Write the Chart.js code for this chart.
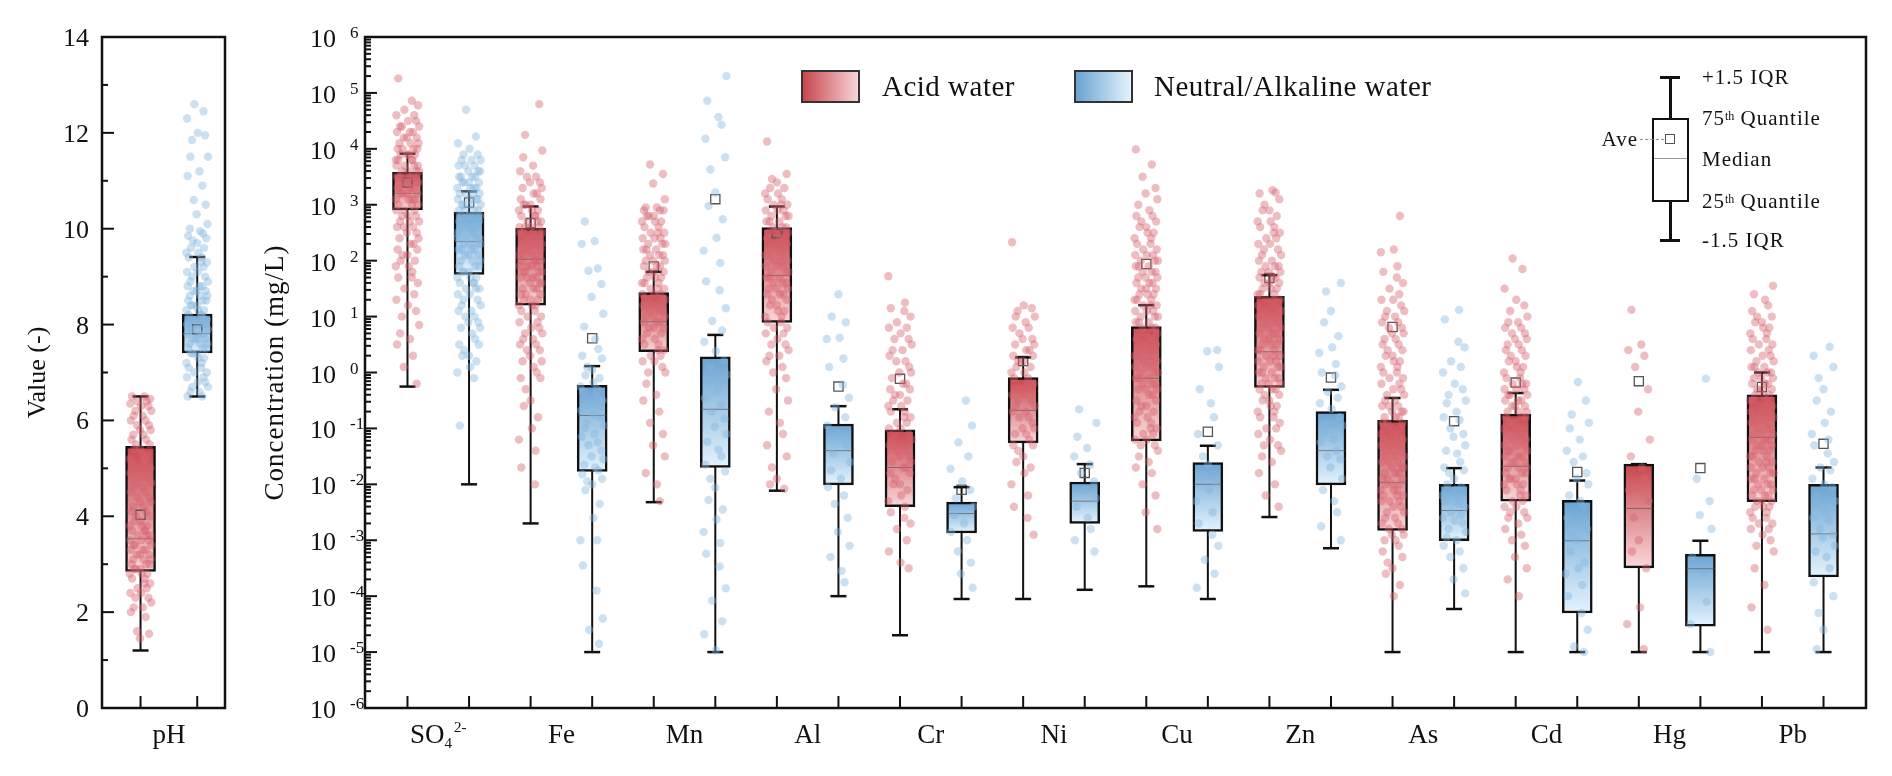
<!DOCTYPE html>
<html lang="en">
<head>
<meta charset="UTF-8">
<title>Acid vs neutral/alkaline water quality</title>
<script src="https://cdn.jsdelivr.net/npm/chart.js@4"></script>
<style>
  body { margin: 0; width: 1892px; height: 776px; background: #fff; position: relative; overflow: hidden; font-family: "Liberation Serif", "Times New Roman", serif; color: #111; }
  canvas { position: absolute; top: 0; }
  #phChart { left: 0; }
  #mainChart { left: 240px; }
  .abs { position: absolute; z-index: 2; }
  .swatch { width: 59px; height: 33px; border: 2px solid #333; box-sizing: border-box; }
  .leg { font-size: 29px; letter-spacing: 0.5px; line-height: 34px; white-space: nowrap; }
  .key { font-size: 21px; letter-spacing: 1px; line-height: 24px; white-space: nowrap; }
  .key sup { font-size: 12px; vertical-align: top; position: relative; top: -2px; letter-spacing: 0; }
  .blk { background: #111; }
</style>
</head>
<body>
<canvas id="phChart" width="240" height="776"></canvas>
<canvas id="mainChart" width="1652" height="776"></canvas>

<!-- legend -->
<div class="abs swatch" style="left:801px;top:70px;background:linear-gradient(to right,#c8464d,#f7d5d8);"></div>
<div class="abs leg" style="left:882px;top:69px;">Acid water</div>
<div class="abs swatch" style="left:1074px;top:70px;background:linear-gradient(to right,#6aa3d2,#e4f3fd);"></div>
<div class="abs leg" style="left:1154px;top:69px;">Neutral/Alkaline water</div>

<!-- box key -->
<div class="abs blk" style="left:1660px;top:76px;width:20px;height:3px;"></div>
<div class="abs blk" style="left:1669px;top:77px;width:2.5px;height:41px;"></div>
<div class="abs" style="left:1652px;top:118px;width:37px;height:84px;border:2px solid #111;box-sizing:border-box;background:#fff;"></div>
<div class="abs" style="left:1654px;top:158px;width:33px;height:1px;background:#999;"></div>
<div class="abs" style="left:1665px;top:134px;width:10px;height:10px;border:1.5px solid #555;box-sizing:border-box;"></div>
<div class="abs" style="left:1640px;top:139px;width:24px;border-top:1px dashed #888;"></div>
<div class="abs blk" style="left:1669px;top:201px;width:2.5px;height:39px;"></div>
<div class="abs blk" style="left:1660px;top:239px;width:20px;height:3px;"></div>
<div class="abs key" style="right:254px;top:127px;">Ave</div>
<div class="abs key" style="left:1702px;top:65px;">+1.5 IQR</div>
<div class="abs key" style="left:1702px;top:106px;">75<sup>th</sup> Quantile</div>
<div class="abs key" style="left:1702px;top:147px;">Median</div>
<div class="abs key" style="left:1702px;top:189px;">25<sup>th</sup> Quantile</div>
<div class="abs key" style="left:1702px;top:228px;">-1.5 IQR</div>

<script>
// ---------- pH panel (acid, neutral/alkaline) ----------
const phLow = [1.2, 6.5];
const phQ1 = [2.85, 7.41];
const phMed = [3.53, 7.81];
const phQ3 = [5.46, 8.22];
const phHigh = [6.5, 9.41];
const phMean = [4.03, 7.9];
const phAcidPts = [6.5, 6.5, 6.45, 6.4, 6.4, 6.35, 6.3, 6.3, 6.2, 6.2, 6.1, 6.1, 6.0, 6.0, 5.9, 5.9, 5.8, 5.8, 5.7, 5.7, 5.6, 5.6,
  5.5, 5.5, 5.4, 5.4, 5.3, 5.3, 5.2, 5.2, 5.1, 5.1, 5.0, 5.0, 4.9, 4.9, 4.8, 4.8, 4.7, 4.7, 4.6, 4.6, 4.5, 4.5, 4.4, 4.4, 4.3,
  4.3, 4.2, 4.2, 4.1, 4.1, 4.0, 4.0, 3.9, 3.9, 3.8, 3.8, 3.8, 3.7, 3.7, 3.7, 3.6, 3.6, 3.6, 3.5, 3.5, 3.5, 3.4, 3.4, 3.4, 3.3,
  3.3, 3.3, 3.2, 3.2, 3.2, 3.1, 3.1, 3.1, 3.0, 3.0, 3.0, 2.9, 2.9, 2.9, 2.8, 2.8, 2.8, 2.7, 2.7, 2.6, 2.6, 2.5, 2.5, 2.4, 2.4,
  2.3, 2.3, 2.2, 2.1, 2.1, 2.0, 1.9, 1.6, 1.55, 1.45];
const phNeuPts = [12.6, 12.45, 12.3, 12.0, 11.95, 11.85, 11.5, 11.5, 11.2, 11.1, 10.9, 10.6, 10.5, 10.3, 10.1, 10.0, 9.95, 9.9, 9.85,
  9.8, 9.75, 9.7, 9.6, 9.6, 9.5, 9.5, 9.4, 9.4, 9.3, 9.3, 9.2, 9.2, 9.1, 9.1, 9.0, 9.0, 8.9, 8.9, 8.8, 8.8, 8.8, 8.7, 8.7, 8.7,
  8.6, 8.6, 8.6, 8.5, 8.5, 8.5, 8.4, 8.4, 8.4, 8.3, 8.3, 8.3, 8.2, 8.2, 8.2, 8.1, 8.1, 8.1, 8.0, 8.0, 8.0, 7.9, 7.9, 7.9, 7.8,
  7.8, 7.8, 7.7, 7.7, 7.7, 7.6, 7.6, 7.6, 7.5, 7.5, 7.5, 7.4, 7.4, 7.4, 7.3, 7.3, 7.2, 7.2, 7.1, 7.1, 7.0, 7.0, 6.9, 6.9, 6.8,
  6.8, 6.7, 6.7, 6.6, 6.6, 6.5, 6.5];
const phTicks = [0, 2, 4, 6, 8, 10, 12, 14];

// ---------- concentration panel (mg/L) ----------
const elements = ['SO4', 'Fe', 'Mn', 'Al', 'Cr', 'Ni', 'Cu', 'Zn', 'As', 'Cd', 'Hg', 'Pb'];

const acidLow  = [0.56, 0.002, 0.0048, 0.0077, 2e-5, 8.9e-5, 1.5e-4, 0.0026, 1e-5, 1e-5, 1e-5, 1e-5];
const acidQ1   = [810, 16, 2.35, 7.9, 0.004, 0.055, 0.06, 0.54, 0.0015, 0.005, 3.2e-4, 0.0049];
const acidMed  = [1600, 106, 8.1, 54, 0.02, 0.21, 0.79, 2.35, 0.0107, 0.021, 0.0037, 0.069];
const acidQ3   = [3800, 380, 27, 390, 0.094, 0.81, 6.6, 23, 0.14, 0.18, 0.023, 0.4];
const acidHigh = [8200, 930, 63, 930, 0.22, 1.86, 16, 55, 0.35, 0.43, 0.023, 1.0];
const acidMean = [2500, 470, 79, 310, 0.77, 1.6, 87, 49, 6.5, 0.66, 0.7, 0.55];

const neuLow  = [0.01, 1e-5, 1e-5, 1e-4, 8.9e-5, 1.3e-4, 8.9e-5, 7.2e-4, 5.9e-5, 1e-5, 1e-5, 1e-5];
const neuQ1   = [57, 0.017, 0.02, 0.0098, 0.00135, 0.002, 0.00144, 0.0098, 0.00098, 5e-5, 2.9e-5, 2.2e-4];
const neuMed  = [220, 0.17, 0.22, 0.04, 0.003, 0.005, 0.01, 0.04, 0.0034, 0.00098, 3.1e-4, 0.0013];
const neuQ3   = [740, 0.59, 1.9, 0.12, 0.0048, 0.011, 0.0245, 0.2, 0.01, 0.0052, 5.6e-4, 0.01];
const neuHigh = [1740, 1.3, 4.7, 0.25, 0.0089, 0.023, 0.049, 0.49, 0.0195, 0.0117, 9.8e-4, 0.02];
const neuMean = [1100, 4.1, 1260, 0.56, 0.008, 0.016, 0.087, 0.81, 0.135, 0.0166, 0.0195, 0.053];

// individual samples, stored as log10(mg/L)
const acidPtsLog = [
  [5.26, 4.86, 4.78, 4.7, 4.6, 4.6, 4.5, 4.5, 4.4, 4.4, 4.4, 4.3, 4.3, 4.3, 4.2, 4.2, 4.2, 4.1, 4.1, 4.1, 4.0, 4.0, 4.0, 4.0, 3.9, 3.9,
   3.9, 3.9, 3.8, 3.8, 3.8, 3.8, 3.7, 3.7, 3.7, 3.7, 3.6, 3.6, 3.6, 3.6, 3.5, 3.5, 3.5, 3.5, 3.4, 3.4, 3.4, 3.4, 3.3, 3.3, 3.3, 3.3,
   3.2, 3.2, 3.2, 3.2, 3.1, 3.1, 3.1, 3.1, 3.0, 3.0, 3.0, 2.9, 2.9, 2.9, 2.8, 2.8, 2.8, 2.7, 2.7, 2.7, 2.6, 2.6, 2.6, 2.5, 2.5, 2.4,
   2.4, 2.3, 2.3, 2.2, 2.2, 2.1, 2.1, 2.0, 2.0, 1.9, 1.9, 1.8, 1.7, 1.7, 1.6, 1.5, 1.4, 1.3, 1.2, 1.1, 1.0, 0.85, 0.7, 0.6, 0.5,
   0.3, 0.1, -0.2],
  [4.8, 4.25, 3.97, 3.85, 3.7, 3.6, 3.5, 3.5, 3.4, 3.4, 3.3, 3.3, 3.2, 3.2, 3.1, 3.1, 3.0, 3.0, 3.0, 2.9, 2.9, 2.9, 2.8, 2.8, 2.8, 2.7,
   2.7, 2.7, 2.6, 2.6, 2.6, 2.6, 2.5, 2.5, 2.5, 2.5, 2.4, 2.4, 2.4, 2.4, 2.3, 2.3, 2.3, 2.3, 2.2, 2.2, 2.2, 2.2, 2.1, 2.1, 2.1, 2.1,
   2.0, 2.0, 2.0, 2.0, 1.9, 1.9, 1.9, 1.9, 1.8, 1.8, 1.8, 1.8, 1.7, 1.7, 1.7, 1.7, 1.6, 1.6, 1.6, 1.5, 1.5, 1.5, 1.4, 1.4, 1.4, 1.3,
   1.3, 1.3, 1.2, 1.2, 1.2, 1.1, 1.1, 1.0, 1.0, 0.9, 0.9, 0.8, 0.8, 0.7, 0.7, 0.6, 0.6, 0.5, 0.5, 0.4, 0.4, 0.3, 0.2, 0.2, 0.1, 0.0,
   -0.1, -0.1, -0.3, -0.5, -0.6, -0.8, -1.0, -1.2, -1.4, -1.7, -2.0],
  [3.72, 3.55, 3.38, 3.1, 2.95, 2.95, 2.9, 2.9, 2.9, 2.8, 2.8, 2.8, 2.7, 2.7, 2.7, 2.6, 2.6, 2.5, 2.5, 2.5, 2.4, 2.4, 2.4, 2.3, 2.3, 2.3,
   2.2, 2.2, 2.2, 2.1, 2.1, 2.1, 2.0, 2.0, 2.0, 1.9, 1.9, 1.9, 1.8, 1.8, 1.8, 1.7, 1.7, 1.7, 1.6, 1.6, 1.6, 1.5, 1.5, 1.5, 1.4, 1.4,
   1.4, 1.3, 1.3, 1.3, 1.2, 1.2, 1.2, 1.1, 1.1, 1.1, 1.0, 1.0, 1.0, 0.9, 0.9, 0.9, 0.8, 0.8, 0.8, 0.7, 0.7, 0.6, 0.6, 0.5, 0.5, 0.4,
   0.4, 0.3, 0.3, 0.2, 0.2, 0.1, 0.0, 0.0, -0.2, -0.4, -0.5, -0.7, -0.9, -1.1, -1.3, -1.5, -1.8, -2.0, -2.3],
  [4.13, 3.55, 3.46, 3.4, 3.3, 3.3, 3.2, 3.2, 3.1, 3.1, 3.0, 3.0, 3.0, 2.9, 2.9, 2.9, 2.8, 2.8, 2.8, 2.7, 2.7, 2.7, 2.6, 2.6, 2.6, 2.5,
   2.5, 2.5, 2.4, 2.4, 2.4, 2.3, 2.3, 2.3, 2.2, 2.2, 2.2, 2.1, 2.1, 2.1, 2.0, 2.0, 2.0, 1.9, 1.9, 1.9, 1.8, 1.8, 1.8, 1.7, 1.7, 1.7,
   1.6, 1.6, 1.6, 1.5, 1.5, 1.5, 1.4, 1.4, 1.4, 1.3, 1.3, 1.2, 1.2, 1.1, 1.1, 1.0, 1.0, 0.9, 0.9, 0.8, 0.8, 0.7, 0.7, 0.6, 0.5, 0.5,
   0.4, 0.3, 0.3, 0.2, 0.1, 0.0, -0.1, -0.3, -0.5, -0.7, -0.9, -1.1, -1.3, -1.5, -1.7, -1.9, -2.0, -2.08],
  [1.72, 1.25, 1.15, 1.1, 1.0, 0.9, 0.8, 0.8, 0.7, 0.6, 0.6, 0.5, 0.4, 0.4, 0.3, 0.2, 0.2, 0.1, 0.0, 0.0, -0.1, -0.2, -0.2, -0.3,
   -0.3, -0.4, -0.4, -0.5, -0.5, -0.6, -0.6, -0.7, -0.7, -0.8, -0.8, -0.9, -0.9, -1.0, -1.0, -1.1, -1.1, -1.2, -1.2, -1.3, -1.3,
   -1.4, -1.4, -1.5, -1.5, -1.6, -1.6, -1.7, -1.7, -1.8, -1.8, -1.9, -2.0, -2.0, -2.1, -2.2, -2.3, -2.4, -2.5, -2.6, -2.7, -2.8,
   -3.0, -3.2, -3.4, -3.5],
  [2.33, 1.2, 1.15, 1.1, 1.0, 1.0, 0.9, 0.8, 0.8, 0.7, 0.6, 0.6, 0.5, 0.5, 0.4, 0.4, 0.3, 0.3, 0.2, 0.2, 0.1, 0.1, 0.0, 0.0, -0.1,
   -0.1, -0.2, -0.2, -0.3, -0.3, -0.4, -0.4, -0.5, -0.5, -0.6, -0.6, -0.7, -0.7, -0.8, -0.8, -0.9, -1.0, -1.0, -1.1, -1.1, -1.2,
   -1.3, -1.3, -1.4, -1.5, -1.6, -1.7, -1.8, -2.0, -2.2, -2.4, -2.6, -2.9],
  [3.99, 3.72, 3.5, 3.3, 3.2, 3.1, 3.0, 2.9, 2.8, 2.8, 2.7, 2.7, 2.6, 2.6, 2.5, 2.5, 2.4, 2.4, 2.3, 2.3, 2.2, 2.2, 2.1, 2.1, 2.1, 2.0,
   2.0, 2.0, 1.9, 1.9, 1.9, 1.8, 1.8, 1.8, 1.7, 1.7, 1.7, 1.6, 1.6, 1.6, 1.5, 1.5, 1.5, 1.4, 1.4, 1.4, 1.3, 1.3, 1.3, 1.2, 1.2, 1.2,
   1.1, 1.1, 1.1, 1.0, 1.0, 1.0, 0.9, 0.9, 0.9, 0.8, 0.8, 0.8, 0.7, 0.7, 0.7, 0.6, 0.6, 0.6, 0.5, 0.5, 0.5, 0.4, 0.4, 0.4, 0.3, 0.3,
   0.3, 0.2, 0.2, 0.2, 0.1, 0.1, 0.1, 0.0, 0.0, 0.0, -0.1, -0.1, -0.1, -0.2, -0.2, -0.2, -0.3, -0.3, -0.3, -0.4, -0.4, -0.5, -0.5,
   -0.6, -0.6, -0.7, -0.7, -0.8, -0.8, -0.9, -0.9, -1.0, -1.0, -1.1, -1.1, -1.2, -1.2, -1.3, -1.3, -1.4, -1.5, -1.6, -1.7, -1.8,
   -2.0, -2.2, -2.5, -2.8],
  [3.26, 3.22, 3.2, 3.1, 3.0, 2.9, 2.9, 2.8, 2.7, 2.7, 2.6, 2.6, 2.5, 2.5, 2.4, 2.4, 2.3, 2.3, 2.2, 2.2, 2.1, 2.1, 2.0, 2.0, 1.9, 1.9,
   1.9, 1.8, 1.8, 1.8, 1.7, 1.7, 1.7, 1.6, 1.6, 1.6, 1.5, 1.5, 1.5, 1.4, 1.4, 1.4, 1.3, 1.3, 1.3, 1.2, 1.2, 1.2, 1.1, 1.1, 1.1, 1.0,
   1.0, 1.0, 0.9, 0.9, 0.9, 0.8, 0.8, 0.8, 0.7, 0.7, 0.7, 0.6, 0.6, 0.6, 0.5, 0.5, 0.5, 0.4, 0.4, 0.4, 0.3, 0.3, 0.3, 0.2, 0.2, 0.2,
   0.1, 0.1, 0.1, 0.0, 0.0, 0.0, -0.1, -0.1, -0.1, -0.2, -0.2, -0.2, -0.3, -0.3, -0.3, -0.4, -0.4, -0.5, -0.5, -0.6, -0.6, -0.7,
   -0.7, -0.8, -0.8, -0.9, -1.0, -1.0, -1.1, -1.2, -1.3, -1.3, -1.4, -1.5, -1.6, -1.8, -2.0, -2.2, -2.4],
  [2.8, 2.2, 2.15, 1.9, 1.8, 1.7, 1.6, 1.5, 1.4, 1.3, 1.3, 1.2, 1.1, 1.1, 1.0, 1.0, 0.9, 0.9, 0.8, 0.8, 0.7, 0.7, 0.6, 0.6, 0.5, 0.5,
   0.4, 0.4, 0.3, 0.3, 0.2, 0.2, 0.1, 0.1, 0.0, 0.0, -0.1, -0.1, -0.2, -0.2, -0.3, -0.3, -0.4, -0.4, -0.5, -0.5, -0.6, -0.6, -0.6,
   -0.7, -0.7, -0.7, -0.8, -0.8, -0.8, -0.9, -0.9, -0.9, -1.0, -1.0, -1.0, -1.1, -1.1, -1.1, -1.2, -1.2, -1.2, -1.3, -1.3, -1.3,
   -1.4, -1.4, -1.4, -1.5, -1.5, -1.5, -1.6, -1.6, -1.6, -1.7, -1.7, -1.7, -1.8, -1.8, -1.8, -1.9, -1.9, -1.9, -2.0, -2.0, -2.0,
   -2.1, -2.1, -2.1, -2.2, -2.2, -2.2, -2.3, -2.3, -2.3, -2.4, -2.4, -2.5, -2.5, -2.6, -2.6, -2.7, -2.7, -2.8, -2.8, -2.9, -2.9,
   -3.0, -3.0, -3.1, -3.2, -3.3, -3.4, -3.5, -3.6, -3.8, -4.0],
  [2.04, 1.85, 1.5, 1.3, 1.2, 1.1, 1.0, 0.9, 0.9, 0.8, 0.8, 0.7, 0.7, 0.6, 0.6, 0.5, 0.5, 0.4, 0.4, 0.3, 0.3, 0.2, 0.2, 0.1, 0.1, 0.0,
   0.0, -0.1, -0.1, -0.2, -0.2, -0.2, -0.3, -0.3, -0.3, -0.4, -0.4, -0.4, -0.5, -0.5, -0.5, -0.6, -0.6, -0.6, -0.7, -0.7, -0.7,
   -0.8, -0.8, -0.8, -0.9, -0.9, -0.9, -1.0, -1.0, -1.0, -1.1, -1.1, -1.1, -1.2, -1.2, -1.2, -1.3, -1.3, -1.3, -1.4, -1.4, -1.4,
   -1.5, -1.5, -1.5, -1.6, -1.6, -1.6, -1.7, -1.7, -1.7, -1.8, -1.8, -1.8, -1.9, -1.9, -1.9, -2.0, -2.0, -2.0, -2.1, -2.1, -2.2,
   -2.2, -2.3, -2.3, -2.4, -2.4, -2.5, -2.5, -2.6, -2.6, -2.7, -2.8, -2.9, -3.0, -3.1, -3.3, -3.5, -3.7, -4.0],
  [1.12, 0.5, 0.4, 0.3, 0.1, -0.3, -0.7, -1.2, -1.5, -1.7, -1.9, -2.1, -2.3, -2.6, -3.0, -3.2, -3.5, -4.2, -4.5, -4.95],
  [1.55, 1.4, 1.3, 1.2, 1.1, 1.0, 1.0, 0.9, 0.9, 0.8, 0.8, 0.7, 0.7, 0.6, 0.6, 0.5, 0.5, 0.4, 0.4, 0.3, 0.3, 0.2, 0.2, 0.1, 0.1, 0.1,
   0.0, 0.0, 0.0, -0.1, -0.1, -0.1, -0.2, -0.2, -0.2, -0.3, -0.3, -0.3, -0.4, -0.4, -0.4, -0.5, -0.5, -0.5, -0.6, -0.6, -0.6, -0.7,
   -0.7, -0.7, -0.8, -0.8, -0.8, -0.9, -0.9, -0.9, -1.0, -1.0, -1.0, -1.1, -1.1, -1.1, -1.2, -1.2, -1.2, -1.3, -1.3, -1.3, -1.4,
   -1.4, -1.4, -1.5, -1.5, -1.5, -1.6, -1.6, -1.6, -1.7, -1.7, -1.7, -1.8, -1.8, -1.8, -1.9, -1.9, -1.9, -2.0, -2.0, -2.0, -2.1,
   -2.1, -2.1, -2.2, -2.2, -2.2, -2.3, -2.3, -2.3, -2.4, -2.4, -2.4, -2.5, -2.5, -2.6, -2.6, -2.7, -2.7, -2.8, -2.8, -2.9, -3.0,
   -3.1, -3.2, -3.5, -3.8, -4.2, -4.6]
];
const neuPtsLog = [
  [4.7, 4.22, 4.1, 4.0, 3.9, 3.9, 3.8, 3.8, 3.8, 3.7, 3.7, 3.7, 3.6, 3.6, 3.6, 3.5, 3.5, 3.5, 3.5, 3.4, 3.4, 3.4, 3.4, 3.3, 3.3, 3.3,
   3.3, 3.2, 3.2, 3.2, 3.2, 3.1, 3.1, 3.1, 3.1, 3.0, 3.0, 3.0, 3.0, 2.9, 2.9, 2.9, 2.9, 2.8, 2.8, 2.8, 2.8, 2.7, 2.7, 2.7, 2.7, 2.6,
   2.6, 2.6, 2.6, 2.5, 2.5, 2.5, 2.5, 2.4, 2.4, 2.4, 2.4, 2.3, 2.3, 2.3, 2.3, 2.2, 2.2, 2.2, 2.2, 2.1, 2.1, 2.1, 2.0, 2.0, 2.0, 1.9,
   1.9, 1.9, 1.8, 1.8, 1.8, 1.7, 1.7, 1.7, 1.6, 1.6, 1.6, 1.5, 1.5, 1.5, 1.4, 1.4, 1.3, 1.3, 1.2, 1.2, 1.1, 1.1, 1.0, 1.0, 0.9, 0.9,
   0.8, 0.8, 0.7, 0.6, 0.5, 0.5, 0.4, 0.3, 0.3, 0.2, 0.1, 0.0, -0.1, -0.95],
  [2.7, 2.35, 2.3, 1.86, 1.82, 1.58, 1.35, 1.05, 0.82, 0.6, 0.42, 0.3, 0.25, 0.1, 0.05, -0.05, -0.1, -0.18, -0.25, -0.3, -0.35,
   -0.42, -0.5, -0.55, -0.6, -0.68, -0.75, -0.8, -0.9, -0.95, -1.0, -1.1, -1.15, -1.25, -1.3, -1.4, -1.5, -1.55, -1.65, -1.7,
   -1.75, -1.82, -1.9, -1.95, -2.0, -2.1, -2.35, -2.6, -3.0, -3.0, -3.45, -3.9, -4.4, -4.6, -4.85],
  [5.3, 4.86, 4.57, 4.43, 4.18, 3.85, 3.63, 3.22, 2.98, 2.74, 2.41, 2.18, 1.96, 1.63, 1.47, 1.15, 0.92, 0.75, 0.55, 0.38, 0.21, 0.1,
   -0.04, -0.17, -0.3, -0.46, -0.58, -0.7, -0.83, -0.97, -1.1, -1.24, -1.38, -1.5, -1.65, -1.77, -1.9, -2.06, -2.28, -2.45, -2.63,
   -2.85, -3.05, -3.24, -3.47, -3.86, -4.08, -4.45, -4.68, -4.97],
  [1.4, 1.0, 0.9, 0.62, 0.6, 0.25, 0.1, -0.22, -0.45, -0.62, -0.8, -0.95, -1.1, -1.3, -1.45, -1.6, -1.75, -1.9, -2.05, -2.2, -2.35,
   -2.6, -2.85, -3.1, -3.3, -3.55, -3.75],
  [-0.5, -0.95, -1.25, -1.5, -1.72, -1.95, -2.1, -2.25, -2.4, -2.55, -2.7, -2.85, -3.0, -3.2, -3.4, -3.6, -3.85],
  [-0.66, -0.9, -1.15, -1.35, -1.5, -1.65, -1.8, -1.95, -2.1, -2.25, -2.4, -2.6, -2.8, -3.0, -3.2],
  [0.4, 0.38, 0.1, -0.3, -0.55, -0.8, -1.1, -1.3, -1.5, -1.65, -1.8, -1.95, -2.1, -2.3, -2.5, -2.7, -2.9, -3.1, -3.35, -3.6, -3.85],
  [1.6, 1.45, 1.1, 0.9, 0.65, 0.45, 0.35, 0.15, 0.0, -0.05, -0.25, -0.35, -0.45, -0.55, -0.65, -0.8, -0.9, -0.95, -1.1, -1.2,
   -1.25, -1.4, -1.5, -1.55, -1.7, -1.9, -2.1, -2.3, -2.5, -2.75, -3.0],
  [1.12, 0.95, 0.55, 0.45, 0.2, 0.1, 0.0, -0.2, -0.3, -0.4, -0.5, -0.55, -0.7, -0.8, -0.85, -1.0, -1.1, -1.15, -1.3, -1.4, -1.45,
   -1.6, -1.7, -1.75, -1.8, -1.9, -2.0, -2.05, -2.1, -2.2, -2.25, -2.3, -2.35, -2.4, -2.5, -2.55, -2.6, -2.65, -2.7, -2.8, -2.85,
   -2.95, -3.0, -3.1, -3.2, -3.3, -3.5, -3.7, -3.95],
  [-0.17, -0.5, -0.75, -0.9, -1.0, -1.2, -1.4, -1.5, -1.6, -1.8, -1.9, -2.0, -2.2, -2.3, -2.4, -2.6, -2.8, -2.9, -3.0, -3.2, -3.4,
   -3.5, -3.6, -3.8, -4.0, -4.3, -4.6, -4.9, -5.0],
  [-0.11, -1.9, -2.3, -2.55, -2.8, -3.3, -3.6, -4.1, -4.5, -5.0],
  [0.46, 0.3, 0.1, -0.1, -0.3, -0.5, -0.7, -0.9, -1.1, -1.2, -1.3, -1.45, -1.6, -1.7, -1.75, -1.9, -2.0, -2.05, -2.2, -2.3, -2.35,
   -2.5, -2.6, -2.65, -2.8, -2.9, -2.95, -3.1, -3.2, -3.3, -3.5, -3.75, -4.0, -4.3, -4.6, -4.95]
];
const logTicks = [-6, -5, -4, -3, -2, -1, 0, 1, 2, 3, 4, 5, 6];

// ---------- styles ----------
const FONT = '"Liberation Serif", "Times New Roman", serif';
const RED_DARK = '#c8464d', RED_LIGHT = '#f8d8da';
const BLUE_DARK = '#6aa3d2', BLUE_LIGHT = '#e4f3fd';
const RED_PT = 'rgba(214,98,110,0.42)', BLUE_PT = 'rgba(132,182,222,0.42)';
const JITTER = [-0.15, 0.07, 0.17, -0.05, 0.11, -0.18, 0.01, 0.14, -0.09, 0.19, -0.12, 0.04, -0.17, 0.09, -0.06,
  0.15, -0.01, 0.18, -0.13, 0.05, 0.1, -0.16, 0.16, -0.08, 0.0, -0.11, 0.12, 0.02, -0.19, 0.08];

// vertical gradient inside each box, acid = even index, neutral = odd index
function boxFill(c) {
  const acid = c.dataIndex % 2 === 0;
  const ys = c.chart.scales.y;
  if (!ys || !c.raw || !c.chart.chartArea) return acid ? RED_DARK : BLUE_DARK;
  const top = ys.getPixelForValue(c.raw.y[1]);
  const bot = ys.getPixelForValue(c.raw.y[0]);
  if (!isFinite(top) || !isFinite(bot) || top === bot) return acid ? RED_DARK : BLUE_DARK;
  const g = c.chart.ctx.createLinearGradient(0, top, 0, bot);
  g.addColorStop(0, acid ? RED_DARK : BLUE_DARK);
  g.addColorStop(1, acid ? RED_LIGHT : BLUE_LIGHT);
  return g;
}

// builds the box-plot datasets; series 0 = acid at even x, series 1 = neutral at odd x
function boxDatasets(series, transform) {
  const boxes = [], stems = [], caps = [], meds = [], means = [], acidPts = [], neuPts = [];
  const n = series[0].low.length;
  for (let i = 0; i < n; i++) {
    series.forEach((s, si) => {
      const x = 2 * i + si;
      boxes.push({ x, y: [s.q1[i], s.q3[i]] });
      stems.push({ x, y: s.low[i] }, { x, y: s.high[i] }, { x, y: null });
      caps.push({ x, y: s.low[i] }, { x, y: s.high[i] });
      meds.push({ x, y: s.med[i] });
      means.push({ x, y: s.mean[i] });
      const target = si === 0 ? acidPts : neuPts;
      s.pts[i].forEach((v, k) => {
        target.push({ x: x + JITTER[(k + i * 7 + si * 3) % JITTER.length], y: transform(v) });
      });
    });
  }
  return [
    { type: 'scatter', data: neuPts, pointRadius: 4.2, backgroundColor: BLUE_PT, borderWidth: 0, order: 1 },
    { type: 'scatter', data: acidPts, pointRadius: 4.2, backgroundColor: RED_PT, borderWidth: 0, order: 1 },
    { type: 'scatter', data: caps, pointStyle: 'line', pointRadius: 8, borderColor: '#111', borderWidth: 2.5, order: 2 },
    { type: 'scatter', data: means, pointStyle: 'rect', pointRadius: 6.5, backgroundColor: 'rgba(255,255,255,0)', borderColor: '#555', borderWidth: 1.3, order: 3 },
    { type: 'scatter', data: meds, pointStyle: 'line', pointRadius: 14, borderColor: 'rgba(90,90,90,0.7)', borderWidth: 1, order: 4 },
    { type: 'bar', data: boxes, barThickness: 30, backgroundColor: boxFill, borderColor: '#111', borderWidth: 2.5, borderSkipped: false, order: 5 },
    { type: 'line', data: stems, borderColor: '#111', borderWidth: 2, pointRadius: 0, spanGaps: false, order: 6 }
  ];
}

// frame, inward ticks, tick labels and titles
function framePlugin(cfg) {
  return {
    id: 'frame_' + cfg.name,
    afterDraw(chart) {
      const { ctx, chartArea: a } = chart;
      const xs = chart.scales.x, ys = chart.scales.y;
      const seg = (x1, y1, x2, y2) => { ctx.beginPath(); ctx.moveTo(x1, y1); ctx.lineTo(x2, y2); ctx.stroke(); };
      ctx.save();
      ctx.strokeStyle = '#111';
      ctx.lineWidth = 2;
      cfg.yMajor.forEach(v => { const p = ys.getPixelForValue(v); seg(a.left, p, a.left + 12, p); });
      cfg.yMinor.forEach(v => { const p = ys.getPixelForValue(v); seg(a.left, p, a.left + 6, p); });
      cfg.xTicks.forEach(v => { const p = xs.getPixelForValue(v); seg(p, a.bottom, p, a.bottom - 12); });
      ctx.lineWidth = 2.5;
      ctx.strokeRect(a.left, a.top, a.right - a.left, a.bottom - a.top);
      ctx.fillStyle = '#111';
      ctx.textBaseline = 'alphabetic';
      cfg.drawYLabels(ctx, ys, a);
      cfg.drawXLabels(ctx, xs, a);
      ctx.translate(cfg.titleX, (a.top + a.bottom) / 2);
      ctx.rotate(-Math.PI / 2);
      ctx.font = cfg.titleFont;
      if ('letterSpacing' in ctx) ctx.letterSpacing = cfg.titleSpacing;
      ctx.textAlign = 'center';
      ctx.textBaseline = 'middle';
      ctx.fillText(cfg.title, 0, 0);
      ctx.restore();
    }
  };
}

const commonOptions = {
  responsive: false,
  animation: false,
  events: [],
  plugins: { legend: { display: false }, tooltip: { enabled: false } }
};

// ---------- pH chart ----------
const phSeries = [
  { low: [phLow[0]], q1: [phQ1[0]], med: [phMed[0]], q3: [phQ3[0]], high: [phHigh[0]], mean: [phMean[0]], pts: [phAcidPts] },
  { low: [phLow[1]], q1: [phQ1[1]], med: [phMed[1]], q3: [phQ3[1]], high: [phHigh[1]], mean: [phMean[1]], pts: [phNeuPts] }
];
const phMinor = [];
for (let v = 1; v < 14; v += 2) phMinor.push(v);

new Chart(document.getElementById('phChart'), {
  type: 'bar',
  data: { datasets: boxDatasets(phSeries, v => v) },
  options: {
    ...commonOptions,
    layout: { padding: { left: 102, right: 4, top: 37, bottom: 68 } },
    scales: {
      x: { type: 'linear', min: -0.68, max: 1.49, offset: false, display: false },
      y: { type: 'linear', min: 0, max: 14, display: false }
    }
  },
  plugins: [framePlugin({
    name: 'ph',
    yMajor: phTicks, yMinor: phMinor, xTicks: [0, 1],
    title: 'Value (-)', titleX: 38, titleFont: '26px ' + FONT, titleSpacing: '0px',
    drawYLabels(ctx, ys, a) {
      ctx.font = '26px ' + FONT;
      ctx.textAlign = 'right';
      phTicks.forEach(v => ctx.fillText(String(v), a.left - 13, ys.getPixelForValue(v) + 9));
    },
    drawXLabels(ctx, xs, a) {
      ctx.font = '27px ' + FONT;
      ctx.textAlign = 'center';
      ctx.fillText('pH', xs.getPixelForValue(0.5), a.bottom + 35);
    }
  })]
});

// ---------- concentration chart ----------
const concSeries = [
  { low: acidLow, q1: acidQ1, med: acidMed, q3: acidQ3, high: acidHigh, mean: acidMean, pts: acidPtsLog },
  { low: neuLow, q1: neuQ1, med: neuMed, q3: neuQ3, high: neuHigh, mean: neuMean, pts: neuPtsLog }
];
const logMinor = [];
for (let k = -6; k < 6; k++) for (let m = 2; m <= 9; m++) logMinor.push(m * Math.pow(10, k));
const catTicks = elements.flatMap((e, i) => [2 * i, 2 * i + 1]);

new Chart(document.getElementById('mainChart'), {
  type: 'bar',
  data: { datasets: boxDatasets(concSeries, v => Math.pow(10, v)) },
  options: {
    ...commonOptions,
    layout: { padding: { left: 125, right: 26, top: 37, bottom: 68 } },
    scales: {
      x: { type: 'linear', min: -0.69, max: 23.69, offset: false, display: false },
      y: { type: 'logarithmic', min: 1e-6, max: 1e6, display: false }
    }
  },
  plugins: [framePlugin({
    name: 'conc',
    yMajor: logTicks.map(k => Math.pow(10, k)), yMinor: logMinor, xTicks: catTicks,
    title: 'Concentration (mg/L)', titleX: 36, titleFont: '27px ' + FONT, titleSpacing: '1px',
    drawYLabels(ctx, ys, a) {
      ctx.textAlign = 'left';
      logTicks.forEach(k => {
        const p = ys.getPixelForValue(Math.pow(10, k));
        ctx.font = '26px ' + FONT;
        const bw = ctx.measureText('10').width;
        ctx.fillText('10', a.left - 29 - bw, p + 10);
        ctx.font = '17px ' + FONT;
        ctx.fillText(String(k), a.left - 15, p + 1);
      });
    },
    drawXLabels(ctx, xs, a) {
      const base = a.bottom + 35;
      elements.forEach((e, i) => {
        const cx = xs.getPixelForValue(2 * i + 0.5);
        if (e === 'SO4') {
          ctx.font = '27px ' + FONT;
          const w1 = ctx.measureText('SO').width;
          ctx.font = '15px ' + FONT;
          const w2 = ctx.measureText('4').width, w3 = ctx.measureText('2-').width;
          const x0 = cx - (w1 + w2 + 2 + w3) / 2;
          ctx.textAlign = 'left';
          ctx.font = '27px ' + FONT;
          ctx.fillText('SO', x0, base);
          ctx.font = '15px ' + FONT;
          ctx.fillText('4', x0 + w1, base + 5);
          ctx.fillText('2-', x0 + w1 + w2 + 2, base - 11);
        } else {
          ctx.font = '27px ' + FONT;
          ctx.textAlign = 'center';
          ctx.fillText(e, cx, base);
        }
      });
    }
  })]
});
</script>
</body>
</html>
